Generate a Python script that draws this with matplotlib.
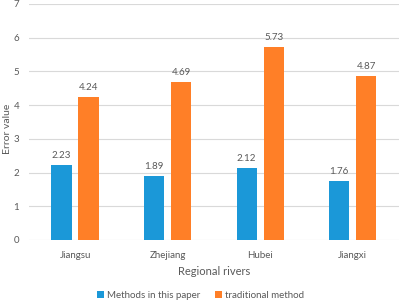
import matplotlib
matplotlib.use("Agg")
import matplotlib.pyplot as plt
import numpy as np

categories = ["Jiangsu", "Zhejiang", "Hubei", "Jiangxi"]
methods_paper = [2.23, 1.89, 2.12, 1.76]
traditional = [4.24, 4.69, 5.73, 4.87]
series_names = ["Methods in this paper", "traditional method"]

plt.rcParams['font.family'] = ['Lato', 'DejaVu Sans']
txt = '#595959'

fig = plt.figure(figsize=(4.01, 3.03), dpi=100)
ax = fig.add_axes([0.072, 0.208, 0.923, 0.779])

x = np.arange(len(categories))
w = 0.22
off = 0.146
b1 = ax.bar(x - off, methods_paper, w, color='#1B98D8', label=series_names[0], zorder=3)
b2 = ax.bar(x + off, traditional, w, color='#FF7F27', label=series_names[1], zorder=3)

for bars, vals in ((b1, methods_paper), (b2, traditional)):
    for r, v in zip(bars, vals):
        ax.text(r.get_x() + r.get_width() / 2, v + 0.15, f"{v:.2f}",
                ha='center', va='bottom', fontsize=7, color=txt)

ax.set_xlim(-0.5, len(categories) - 0.5)
ax.set_ylim(0, 7)
ax.set_yticks(range(0, 8))
ax.set_xticks(x)
ax.set_xticklabels(categories)
ax.tick_params(axis='both', length=0, labelsize=7, colors=txt)
ax.tick_params(axis='x', pad=8)
ax.tick_params(axis='y', pad=7)
ax.grid(axis='y', color='#d9d9d9', linewidth=0.8, zorder=0)
for s in ax.spines.values():
    s.set_visible(False)

ax.set_ylabel("Error value", fontsize=7.5, color=txt)
ax.yaxis.set_label_coords(-0.045, 0.47)
ax.set_xlabel("Regional rivers", fontsize=8, color=txt, labelpad=4)

fig.legend(handles=[b1, b2], labels=series_names, loc='center',
           bbox_to_anchor=(0.5, 0.025), ncol=2, frameon=False, fontsize=7,
           handlelength=0.7, handleheight=0.7, handletextpad=0.3, columnspacing=1.5,
           labelcolor=txt)

fig.savefig("out.png", dpi=100)
